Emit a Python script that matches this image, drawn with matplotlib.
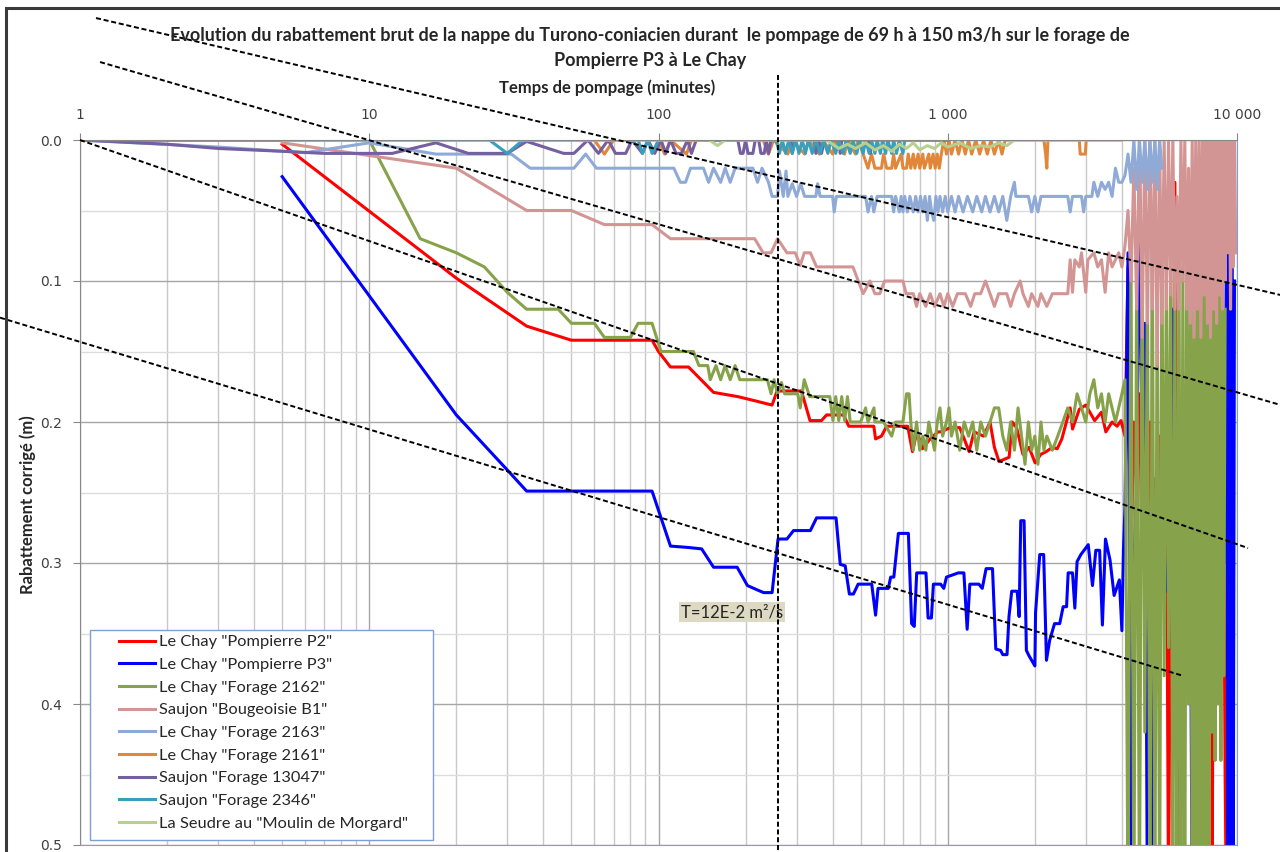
import numpy as np
import matplotlib
matplotlib.use("Agg")
import matplotlib.pyplot as plt
from matplotlib.ticker import FixedLocator, NullFormatter
from matplotlib.patches import Rectangle

# ---- pumping test records (time in minutes, drawdown in m) ----
p2_t = [5, 20, 35, 50, 95, 100, 110, 127, 155, 188, 216, 247, 257, 270, 312, 334, 366, 381, 436, 455,
        555, 563, 590, 615, 727, 755, 782, 818, 869, 925, 946, 1020, 1100, 1140, 1185, 1233, 1330, 1400,
        1450, 1504, 1630, 1670, 1730, 1820, 1910, 2005, 2096, 2190, 2300, 2390, 2480, 2650, 2700, 2850,
        3000, 3220, 3400, 3520, 3700, 3850, 3970, 4100]
p2_y = [0.003, 0.098, 0.132, 0.142, 0.142, 0.150, 0.161, 0.161, 0.179, 0.182, 0.185, 0.188, 0.178, 0.178,
        0.178, 0.199, 0.199, 0.195, 0.195, 0.203, 0.203, 0.212, 0.210, 0.203, 0.203, 0.221, 0.207, 0.219,
        0.212, 0.207, 0.207, 0.204, 0.204, 0.212, 0.221, 0.207, 0.210, 0.200, 0.218, 0.228, 0.225, 0.200,
        0.204, 0.223, 0.218, 0.229, 0.223, 0.221, 0.218, 0.219, 0.212, 0.190, 0.205, 0.191, 0.188, 0.199,
        0.193, 0.207, 0.200, 0.203, 0.199, 0.21]

p3_t = [5, 20, 30, 35, 95, 110, 127, 141, 155, 187, 203, 219, 231, 247, 259, 278, 293, 335, 352, 411,
        425, 442, 457, 472, 490, 546, 563, 574, 623, 635, 651, 675, 731, 750, 766, 781, 841, 855, 878, 892,
        945, 969, 990, 1088, 1137, 1167, 1192, 1281, 1316, 1357, 1428, 1466, 1523, 1550, 1603, 1628, 1664,
        1738, 1765, 1788, 1836, 1870, 1912, 2001, 2012, 2080, 2146, 2194, 2250, 2340, 2438, 2506, 2575,
        2608, 2700, 2750, 2800, 2886, 3060, 3165, 3250, 3350, 3425, 3510, 3640, 3760, 3920, 4000, 4050, 4100]
p3_y = [0.026, 0.195, 0.234, 0.249, 0.249, 0.288, 0.289, 0.290, 0.303, 0.303, 0.316, 0.319, 0.321, 0.321,
        0.283, 0.283, 0.277, 0.277, 0.268, 0.268, 0.301, 0.302, 0.322, 0.322, 0.315, 0.315, 0.337, 0.318,
        0.318, 0.310, 0.310, 0.279, 0.279, 0.343, 0.345, 0.307, 0.307, 0.339, 0.339, 0.315, 0.315, 0.318,
        0.310, 0.307, 0.307, 0.347, 0.315, 0.315, 0.318, 0.304, 0.304, 0.361, 0.362, 0.365, 0.365, 0.338,
        0.320, 0.320, 0.338, 0.270, 0.270, 0.362, 0.366, 0.373, 0.335, 0.294, 0.294, 0.369, 0.355, 0.343,
        0.343, 0.331, 0.331, 0.307, 0.307, 0.332, 0.299, 0.294, 0.287, 0.316, 0.291, 0.291, 0.344, 0.283,
        0.298, 0.323, 0.312, 0.348, 0.291, 0.26]

f2162_t = [1, 10, 15, 20, 25, 30, 35, 45, 50, 60, 65, 80, 85, 95, 102, 132, 138, 148, 151, 158, 164, 170,
           177, 184, 191, 238, 245, 251, 258, 266, 273, 303, 309, 319, 333, 391, 401, 410, 420, 430, 440,
           450, 460, 480, 500, 520, 530, 556, 560, 600, 640, 660, 700, 720, 735, 745, 760, 780, 800, 820,
           840, 860, 880, 900, 920, 940, 960, 990, 1010, 1030, 1060, 1100, 1140, 1180, 1220, 1260, 1300,
           1350, 1400, 1450, 1500, 1550, 1600, 1650, 1700, 1750, 1800, 1850, 1900, 1950, 2000, 2050, 2100,
           2150, 2200, 2300, 2400, 2500, 2600, 2700, 2800, 2900, 3000, 3100, 3200, 3300, 3400, 3500, 3600,
           3700, 3800, 3900, 4000, 4100]
f2162_y = [0.0, 0.0, 0.070, 0.080, 0.090, 0.108, 0.120, 0.120, 0.130, 0.130, 0.140, 0.140, 0.130, 0.130,
           0.150, 0.150, 0.160, 0.160, 0.170, 0.160, 0.170, 0.160, 0.170, 0.160, 0.170, 0.170, 0.180, 0.170,
           0.180, 0.172, 0.180, 0.180, 0.190, 0.170, 0.182, 0.182, 0.199, 0.182, 0.199, 0.182, 0.199, 0.182,
           0.200, 0.200, 0.200, 0.190, 0.200, 0.190, 0.200, 0.200, 0.210, 0.200, 0.200, 0.180, 0.180, 0.200,
           0.220, 0.200, 0.220, 0.210, 0.220, 0.200, 0.210, 0.220, 0.200, 0.190, 0.210, 0.200, 0.190, 0.210,
           0.200, 0.220, 0.200, 0.210, 0.200, 0.220, 0.200, 0.210, 0.200, 0.190, 0.190, 0.210, 0.220, 0.200,
           0.220, 0.190, 0.210, 0.230, 0.200, 0.220, 0.210, 0.230, 0.200, 0.220, 0.210, 0.220, 0.210, 0.200,
           0.190, 0.200, 0.180, 0.190, 0.200, 0.180, 0.170, 0.190, 0.180, 0.200, 0.180, 0.190, 0.200, 0.190,
           0.180, 0.170]

b1_t = [5, 20, 35, 50, 65, 95, 110, 215, 230, 245, 258, 278, 297, 309, 319, 335, 352, 470, 510, 538, 560,
        582, 605, 700, 718, 760, 780, 800, 840, 870, 900, 940, 970, 1000, 1040, 1080, 1150, 1200, 1240,
        1300, 1350, 1400, 1450, 1500, 1600, 1650, 1700, 1780, 1820, 1900, 1950, 2050, 2100, 2200, 2300,
        2500, 2600, 2650, 2700, 2750, 2850, 2900, 3000, 3050, 3200, 3300, 3400, 3500, 3600, 3700, 3800,
        3900, 4000, 4100]
b1_y = [0.002, 0.020, 0.050, 0.050, 0.060, 0.060, 0.070, 0.070, 0.080, 0.080, 0.070, 0.080, 0.080, 0.089,
        0.080, 0.080, 0.090, 0.090, 0.109, 0.100, 0.109, 0.109, 0.100, 0.100, 0.109, 0.109, 0.118, 0.109,
        0.118, 0.109, 0.118, 0.109, 0.118, 0.109, 0.118, 0.109, 0.109, 0.118, 0.109, 0.109, 0.100, 0.109,
        0.118, 0.109, 0.109, 0.118, 0.109, 0.100, 0.109, 0.118, 0.109, 0.118, 0.109, 0.118, 0.109, 0.109,
        0.109, 0.085, 0.108, 0.085, 0.090, 0.080, 0.108, 0.085, 0.080, 0.090, 0.085, 0.108, 0.080, 0.090,
        0.085, 0.080, 0.090, 0.075]

f2163_t = [1, 3, 6, 10, 17, 31, 36, 51, 56, 61, 113, 119, 124, 129, 143, 149, 155, 164, 170, 177, 184, 212,
           220, 228, 240, 247, 258, 262, 270, 276, 280, 290, 300, 310, 320, 350, 355, 362, 400, 405, 412,
           520, 530, 545, 555, 570, 640, 650, 660, 680, 690, 700, 710, 725, 740, 760, 775, 790, 805, 820,
           835, 850, 865, 880, 895, 910, 925, 940, 960, 980, 1000, 1030, 1060, 1090, 1130, 1170, 1220, 1260,
           1310, 1350, 1400, 1450, 1500, 1550, 1600, 1650, 1700, 1720, 1900, 1950, 2000, 2050, 2100, 2600,
           2650, 2700, 2900, 2950, 3000, 3150, 3200, 3300, 3400, 3500, 3600, 3700, 3800, 3900, 4000, 4100]
f2163_y = [0.0, 0.005, 0.009, 0.002, 0.010, 0.010, 0.020, 0.020, 0.010, 0.020, 0.020, 0.030, 0.030, 0.020,
           0.020, 0.030, 0.020, 0.030, 0.020, 0.030, 0.020, 0.020, 0.030, 0.020, 0.030, 0.040, 0.040, 0.022,
           0.040, 0.022, 0.040, 0.031, 0.040, 0.031, 0.040, 0.040, 0.031, 0.040, 0.040, 0.051, 0.040, 0.040,
           0.051, 0.040, 0.051, 0.040, 0.040, 0.051, 0.040, 0.051, 0.040, 0.051, 0.040, 0.051, 0.040, 0.051,
           0.040, 0.051, 0.040, 0.051, 0.040, 0.057, 0.040, 0.051, 0.057, 0.040, 0.051, 0.040, 0.051, 0.040,
           0.051, 0.040, 0.051, 0.040, 0.051, 0.040, 0.051, 0.040, 0.051, 0.040, 0.051, 0.040, 0.051, 0.040,
           0.057, 0.040, 0.030, 0.040, 0.040, 0.051, 0.040, 0.051, 0.040, 0.040, 0.051, 0.040, 0.040, 0.051,
           0.040, 0.040, 0.030, 0.040, 0.030, 0.035, 0.030, 0.040, 0.020, 0.030, 0.030, 0.025]

f2161_t = [1, 60, 65, 70, 100, 105, 110, 125, 130, 230, 240, 250, 280, 290, 320, 330, 360, 370, 400, 410,
           440, 450, 480, 490, 510, 530, 545, 560, 590, 600, 615, 640, 650, 660, 690, 700, 720, 730, 745,
           760, 770, 790, 800, 820, 830, 860, 870, 890, 905, 920, 935, 950, 970, 990, 1010, 1030, 1060,
           1090, 1120, 1150, 1180, 1210, 1250, 1290, 1330, 1370, 1410, 1450, 1500, 1540, 1580, 2150, 2180,
           2200, 2220, 2850, 2870, 2990, 3010, 3950]
f2161_y = [0.0, 0.0, 0.01, 0.0, 0.0, 0.01, 0.0, 0.01, 0.0, 0.0, 0.01, 0.0, 0.01, 0.0, 0.01, 0.0, 0.01, 0.0,
           0.01, 0.0, 0.01, 0.0, 0.01, 0.0, 0.01, 0.02, 0.01, 0.02, 0.02, 0.01, 0.02, 0.02, 0.01, 0.02, 0.01,
           0.02, 0.02, 0.01, 0.02, 0.01, 0.02, 0.01, 0.02, 0.01, 0.02, 0.01, 0.02, 0.01, 0.02, 0.01, 0.02,
           0.01, 0.0, 0.01, 0.0, 0.01, 0.0, 0.01, 0.0, 0.01, 0.0, 0.01, 0.0, 0.01, 0.0, 0.01, 0.0, 0.01, 0.0,
           0.01, 0.0, 0.0, 0.01, 0.02, 0.0, 0.0, 0.01, 0.01, 0.0, 0.0]

f13047_t = [1, 2, 3, 5, 7, 12, 17, 22, 30, 35, 47, 51, 57, 62, 67, 71, 77, 81, 88, 92, 97, 102, 106, 110,
            115, 120, 126, 130, 135, 188, 192, 196, 200, 204, 212, 216, 222, 226, 232, 236, 240, 245, 285,
            290, 295, 345, 350, 358, 366, 375, 420, 425, 430, 535, 540, 545, 1000]
f13047_y = [0.0, 0.003, 0.006, 0.008, 0.0095, 0.0095, 0.002, 0.0095, 0.0095, 0.001, 0.0095, 0.0095, 0.0,
            0.0095, 0.0, 0.0095, 0.0095, 0.0, 0.0095, 0.0, 0.0095, 0.0, 0.0095, 0.0, 0.0095, 0.0095, 0.0,
            0.0095, 0.0, 0.0, 0.0095, 0.0095, 0.0, 0.0095, 0.0095, 0.0, 0.0, 0.0095, 0.0095, 0.0, 0.0095,
            0.0, 0.0, 0.0095, 0.0, 0.0, 0.0095, 0.0, 0.0095, 0.0, 0.0, 0.0095, 0.0, 0.0, 0.0095, 0.0, 0.0]

f2346_t = [1, 26, 30, 34, 85, 88, 92, 95, 100, 255, 262, 268, 275, 282, 290, 298, 306, 314, 322, 330, 340,
           350, 362, 372, 385, 395, 410, 420, 435, 445, 460, 470, 485, 495, 510, 520, 535, 545, 560, 570,
           585, 595, 610, 620, 640, 650, 665, 680, 700, 710, 1000]
f2346_y = [0, 0, 0.0095, 0, 0, 0.0095, 0, 0.0095, 0, 0, 0.0095, 0, 0.0095, 0, 0.0095, 0, 0.0095, 0,
           0.0095, 0, 0.0095, 0, 0.0095, 0, 0.0095, 0, 0.0095, 0, 0.0095, 0, 0.0095, 0, 0.0095, 0, 0.0095,
           0, 0.0095, 0, 0.0095, 0, 0.0095, 0, 0.0095, 0, 0.0095, 0, 0.0095, 0, 0.0095, 0, 0]

morgard_t = [5, 150, 160, 170, 380, 400, 420, 450, 480, 520, 560, 600, 640, 680, 720, 760, 800, 850, 900,
             950, 1000, 1100, 1200, 1300, 1400, 1500, 1600, 1700, 3900]
morgard_y = [0, 0, 0.004, 0, 0, 0.003, 0.006, 0.003, 0.006, 0.002, 0.007, 0.004, 0.008, 0.003, 0.006,
             0.002, 0.007, 0.004, 0.006, 0.002, 0.005, 0.002, 0.006, 0.004, 0.005, 0.002, 0.004, 0, 0]

# end of the test: readings every 100 min, very unstable
t_late = list(range(4200, 10000, 100))
p2_late = [0.09, 0.30, 0.20, 0.25, 0.18, 0.30, 0.22, 0.28, 0.20, 0.30, 0.24, 0.28, 0.21, 0.30, 0.25, 0.22,
           0.55, 0.25, 0.30, 0.03, 0.28, 0.55, 0.22, 0.30, 0.25, 0.28, 0.21, 0.30, 0.24, 0.28, 0.22, 0.55,
           0.25, 0.30, 0.22, 0.28, 0.24, 0.30, 0.22, 0.28, 0.55, 0.25, 0.30, 0.22, 0.28, 0.24, 0.30, 0.22,
           0.28, 0.45, 0.55, 0.55, 0.47, 0.55, 0.55, 0.48, 0.55]
p3_late = [0.08, 0.55, 0.30, 0.25, 0.01, 0.24, 0.13, 0.55, 0.30, 0.55, 0.30, 0.28, 0.31, 0.29, 0.30, 0.32,
           0.29, 0.30, 0.12, 0.23, 0.48, 0.30, 0.28, 0.31, 0.29, 0.30, 0.28, 0.30, 0.55, 0.30, 0.29, 0.55,
           0.28, 0.11, 0.24, 0.55, 0.30, 0.29, 0.31, 0.30, 0.28, 0.30, 0.29, 0.31, 0.30, 0.28, 0.30, 0.29,
           0.30, 0.28, 0.07, 0.55, 0.07, 0.55, 0.08, 0.55, 0.10]
f2162_late = [0.55, 0.08, 0.55, 0.09, 0.55, 0.07, 0.42, 0.10, 0.55, 0.08, 0.55, 0.09, 0.55, 0.07, 0.38,
              0.09, 0.36, 0.08, 0.55, 0.10, 0.55, 0.07, 0.55, 0.09, 0.55, 0.08, 0.40, 0.09, 0.55, 0.07,
              0.55, 0.10, 0.55, 0.08, 0.55, 0.09, 0.55, 0.07, 0.55, 0.09, 0.42, 0.08, 0.44, 0.10, 0.40,
              0.07, 0.44, 0.09, 0.38, 0.12]
b1_late = [0.05, 0.10, 0.02, 0.12, 0.0, 0.14, 0.0, 0.13, 0.0, 0.12, 0.0, 0.16, 0.0, 0.13, 0.0, 0.12, 0.0,
           0.11, 0.0, 0.12, 0.04, 0.12, 0.0, 0.10, 0.0, 0.12, 0.02, 0.13, 0.0, 0.14, 0.0, 0.12, 0.0, 0.14,
           0.0, 0.11, 0.0, 0.13, 0.0, 0.14, 0.0, 0.12, 0.0, 0.13, 0.0, 0.11, 0.0, 0.12, 0.0, 0.10, 0.0, 0.08,
           0.0, 0.12, 0.0, 0.09, 0.0, 0.08]
f2163_late = [0.01, 0.03, 0.0, 0.035, 0.0, 0.03, 0.0, 0.035, 0.0, 0.03, 0.0, 0.035, 0.0, 0.02]

series = [
    ('Le Chay "Pompierre P2"', p2_t + t_late[:len(p2_late)], p2_y + p2_late, '#FF0000'),
    ('Le Chay "Pompierre P3"', p3_t + t_late[:len(p3_late)], p3_y + p3_late, '#0000FF'),
    ('Le Chay "Forage 2162"', f2162_t + t_late[:len(f2162_late)], f2162_y + f2162_late, '#86A24A'),
    ('Saujon "Bougeoisie B1"', b1_t + t_late[:len(b1_late)], b1_y + b1_late, '#D39593'),
    ('Le Chay "Forage 2163"', f2163_t + t_late[:len(f2163_late)], f2163_y + f2163_late, '#8FAAD6'),
    ('Le Chay "Forage 2161"', f2161_t, f2161_y, '#E2873A'),
    ('Saujon "Forage 13047"', f13047_t, f13047_y, '#7460A0'),
    ('Saujon "Forage 2346"', f2346_t, f2346_y, '#3A9FBA'),
    ('La Seudre au "Moulin de Morgard"', morgard_t, morgard_y, '#B8D08F'),
]

# Jacob straight lines drawn by hand on the graph
guide_t = [[1.136, 14190], [1.173, 14190], [1.0, 10915], [0.529, 6501]]
guide_y = [[-0.0865, 0.110], [-0.0553, 0.188], [0.0, 0.2894], [0.126, 0.380]]
t_stop = 258

W, H = 1280, 852
fig = plt.figure(figsize=(W / 100, H / 100), dpi=100)
ax = fig.add_axes([80 / W, 1 - 845 / H, (1237 - 80) / W, (845 - 140) / H])

lines = []
for label, t, y, c in series:
    ln, = ax.plot(t, y, color=c, lw=2.2, label=label)
    lines.append(ln)

dash = (0, (2.6, 1.4))
for gt, gy in zip(guide_t, guide_y):
    ax.plot(gt, gy, color='black', lw=1.4, ls=dash, clip_on=False, zorder=5)
ax.plot([t_stop, t_stop], [-0.046, 0.51], color='black', lw=1.4, ls=dash, clip_on=False, zorder=6)

ax.text(179, 0.335, 'T=12E-2 m²/s', ha='center', va='center', fontsize=12, family='Lato',
        color='#262626', zorder=4,
        bbox=dict(boxstyle='square,pad=0.12', fc='#DDD9C3', ec='none'))

ax.set_xscale('log')
ax.set_xlim(1, 10000)
ax.set_ylim(0.5, 0.0)
ax.xaxis.set_major_locator(FixedLocator([1, 10, 100, 1000, 10000]))
ax.set_xticklabels(['1', '10', '100', '1 000', '10 000'])
minor_x = [m * d for d in [1, 10, 100, 1000] for m in range(2, 10)]
ax.xaxis.set_minor_locator(FixedLocator(minor_x))
ax.xaxis.set_minor_formatter(NullFormatter())
ax.set_yticks([0.0, 0.1, 0.2, 0.3, 0.4, 0.5])
ax.set_yticklabels(['0.0', '0.1', '0.2', '0.3', '0.4', '0.5'])
ax.yaxis.set_minor_locator(FixedLocator([0.05, 0.15, 0.25, 0.35, 0.45]))

ax.xaxis.tick_top()
ax.tick_params(axis='both', which='major', length=5, color='#888888', labelcolor='#404040',
               labelsize=10, pad=8)
ax.tick_params(axis='both', which='minor', length=0)
ax.grid(which='major', color='#A6A6A6', lw=1)
ax.grid(which='minor', axis='x', color='#C8C8C8', lw=1)
ax.grid(which='minor', axis='y', color='#DCDCDC', lw=1)
ax.set_axisbelow(True)
for side in ['left', 'top']:
    ax.spines[side].set_color('#888888')
for side in ['right', 'bottom']:
    ax.spines[side].set_color('#7F9FD3')

title = ("Evolution du rabattement brut de la nappe du Turono-coniacien durant  le pompage de 69 h "
         "à 150 m3/h sur le forage de\nPompierre P3 à Le Chay")
fig.text(650 / W, 1 - 48 / H, title, ha='center', va='center', fontsize=13, fontweight='bold',
         family='Lato', color='#262626', linespacing=1.55)
fig.text(607 / W, 1 - 88 / H, 'Temps de pompage (minutes)', ha='center', va='center', fontsize=12,
         fontweight='bold', family='Lato', color='#262626')
fig.text(28 / W, 1 - 505 / H, 'Rabattement corrigé (m)', ha='center', va='center', rotation=90,
         fontsize=12, fontweight='bold', family='Lato', color='#262626')

# legend box with white background
fig.patches.append(Rectangle((90 / W, 1 - 840 / H), 343 / W, 210 / H, transform=fig.transFigure,
                             fc='white', ec='#7F9FD3', lw=1, zorder=2))
leg = fig.legend(handles=lines, loc='upper left', bbox_to_anchor=(119 / W, 1 - 635 / H),
                 frameon=False, prop={'family': 'Lato', 'size': 11.8}, handlelength=2.2,
                 handletextpad=0.25, labelspacing=0.5, borderpad=0, borderaxespad=0)
leg.set_zorder(3)
for txt in leg.get_texts():
    txt.set_color('#262626')

# chart frame
fig.patches.append(Rectangle((6 / W, -0.1), 1.2, 1.1 - 8 / H, transform=fig.transFigure,
                             fill=False, ec='#3A3A3A', lw=2.2, zorder=1))

fig.savefig('out.png', dpi=100)
